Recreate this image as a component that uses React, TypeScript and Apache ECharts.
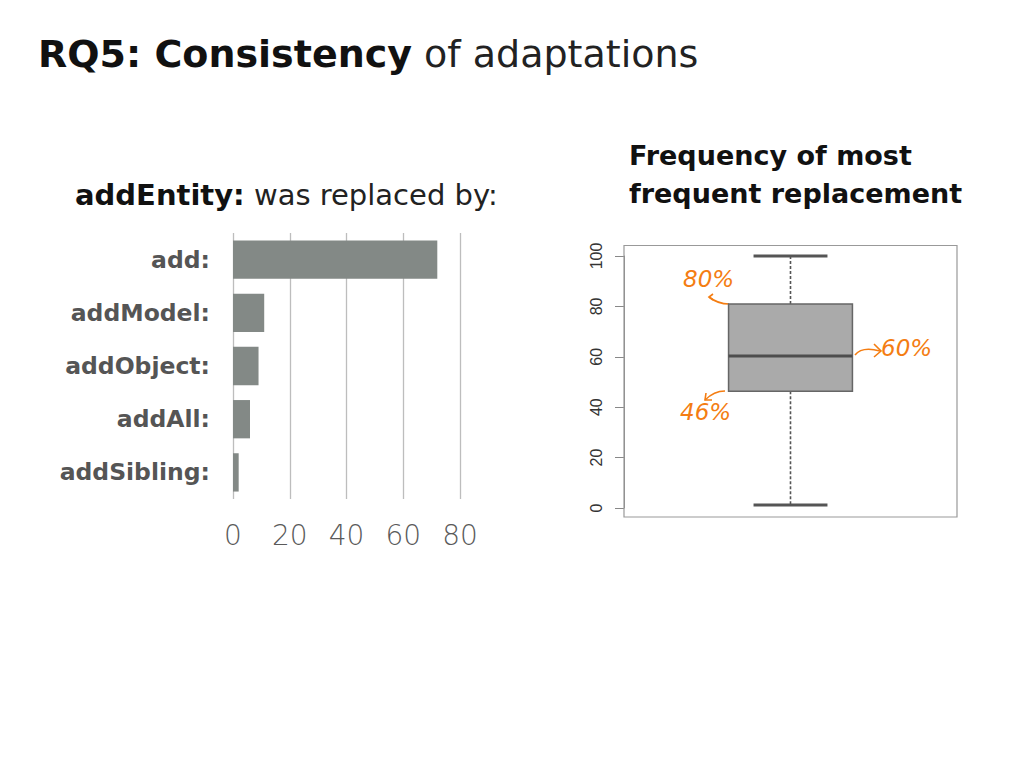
import React, { useEffect, useRef } from "react";
import * as echarts from "echarts";

const categories = ["add:", "addModel:", "addObject:", "addAll:", "addSibling:"];
const counts = [72, 11, 9, 6, 2];
const barTicks = [0, 20, 40, 60, 80];

const boxCategory = ["most frequent"];
// [index, min, Q1, median, Q3, max]
const boxStats = [[0, 1.2, 46.3, 60.3, 81, 100]];
const boxTicks = [0, 20, 40, 60, 80, 100];

const notes = [
  { text: "80%", x: 683, y: 267 },
  { text: "60%", x: 881, y: 336 },
  { text: "46%", x: 680, y: 400 },
];

const FONT = "DejaVu Sans";
const ORANGE = "#f47d12";

export default function App() {
  const ref = useRef<HTMLDivElement>(null);
  useEffect(() => {
    if (!ref.current) return;
    const chart = echarts.init(ref.current, null, { renderer: "svg" });
    const option: any = {
      animation: false,
      backgroundColor: "#ffffff",
      title: [
        {
          left: 33,
          top: 30,
          text: "{b|RQ5: Consistency}{n| of adaptations}",
          textStyle: {
            rich: {
              b: { fontFamily: FONT, fontSize: 38, fontWeight: "bold", color: "#111" },
              n: { fontFamily: FONT, fontSize: 38, fontWeight: "normal", color: "#222" },
            },
          },
        },
        {
          left: 70,
          top: 175,
          text: "{b|addEntity:}{n| was replaced by:}",
          textStyle: {
            rich: {
              b: { fontFamily: FONT, fontSize: 29, fontWeight: "bold", color: "#111" },
              n: { fontFamily: FONT, fontSize: 29, fontWeight: "normal", color: "#222" },
            },
          },
        },
        {
          left: 624,
          top: 131,
          text: "Frequency of most\nfrequent replacement",
          textStyle: {
            fontFamily: FONT,
            fontSize: 27,
            fontWeight: "bold",
            color: "#111",
            lineHeight: 38,
          },
        },
      ],
      grid: [
        { left: 233, right: 564, top: 233, bottom: 269 },
        { left: 624, right: 67, top: 256, bottom: 260 },
      ],
      xAxis: [
        {
          gridIndex: 0,
          type: "value",
          min: 0,
          max: 80,
          interval: 20,
          axisLine: { show: false },
          axisTick: { show: false },
          splitLine: { show: true, lineStyle: { color: "#bdbdbd", width: 1.3 } },
          axisLabel: {
            margin: 22,
            fontFamily: FONT,
            fontSize: 28,
            fontWeight: 200,
            color: "#5a5a5a",
            formatter: (v: number) => (barTicks.includes(v) ? String(v) : ""),
          },
        },
        {
          gridIndex: 1,
          type: "category",
          data: boxCategory,
          axisLine: { show: false },
          axisTick: { show: false },
          axisLabel: { show: false },
          splitLine: { show: false },
        },
      ],
      yAxis: [
        {
          gridIndex: 0,
          type: "category",
          data: categories,
          inverse: true,
          axisLine: { show: false },
          axisTick: { show: false },
          axisLabel: {
            margin: 23,
            fontFamily: FONT,
            fontSize: 23.5,
            fontWeight: "bold",
            color: "#555",
          },
        },
        {
          gridIndex: 1,
          type: "value",
          min: 0,
          max: 100,
          interval: 20,
          axisLine: { show: true, lineStyle: { color: "#888", width: 1 } },
          axisTick: { show: true, inside: false, length: 9, lineStyle: { color: "#888" } },
          splitLine: { show: false },
          axisLabel: {
            rotate: 90,
            margin: 20,
            fontFamily: "Liberation Sans",
            fontSize: 16,
            color: "#333",
            formatter: (v: number) => (boxTicks.includes(v) ? String(v) : ""),
          },
        },
      ],
      series: [
        {
          type: "bar",
          xAxisIndex: 0,
          yAxisIndex: 0,
          data: counts,
          barWidth: "72%",
          itemStyle: { color: "#838986" },
        },
        {
          type: "custom",
          xAxisIndex: 1,
          yAxisIndex: 1,
          data: boxStats,
          encode: { x: 0, y: [1, 2, 3, 4, 5] },
          renderItem: (params: any, api: any) => {
            const xi = api.value(0);
            const pMin = api.coord([xi, api.value(1)]);
            const pQ1 = api.coord([xi, api.value(2)]);
            const pMed = api.coord([xi, api.value(3)]);
            const pQ3 = api.coord([xi, api.value(4)]);
            const pMax = api.coord([xi, api.value(5)]);
            const band = api.size([1, 0])[0];
            const cx = pMed[0];
            const bw = band * 0.372;
            const cw = band * 0.222;
            return {
              type: "group",
              children: [
                {
                  type: "line",
                  shape: { x1: cx, y1: pQ1[1], x2: cx, y2: pMin[1] },
                  style: { stroke: "#555", lineWidth: 1.6, lineDash: [3, 2] },
                },
                {
                  type: "line",
                  shape: { x1: cx, y1: pQ3[1], x2: cx, y2: pMax[1] },
                  style: { stroke: "#555", lineWidth: 1.6, lineDash: [3, 2] },
                },
                {
                  type: "rect",
                  shape: { x: cx - bw / 2, y: pQ3[1], width: bw, height: pQ1[1] - pQ3[1] },
                  style: { fill: "#aaaaaa", stroke: "#666", lineWidth: 1.5 },
                },
                {
                  type: "line",
                  shape: { x1: cx - bw / 2, y1: pMed[1], x2: cx + bw / 2, y2: pMed[1] },
                  style: { stroke: "#4d4d4d", lineWidth: 3 },
                },
                {
                  type: "line",
                  shape: { x1: cx - cw / 2, y1: pMax[1], x2: cx + cw / 2, y2: pMax[1] },
                  style: { stroke: "#555", lineWidth: 3 },
                },
                {
                  type: "line",
                  shape: { x1: cx - cw / 2, y1: pMin[1], x2: cx + cw / 2, y2: pMin[1] },
                  style: { stroke: "#555", lineWidth: 3 },
                },
              ],
            };
          },
        },
      ],
      graphic: [
        {
          type: "rect",
          shape: { x: 624, y: 245.5, width: 333, height: 271.5 },
          style: { fill: "none", stroke: "#999", lineWidth: 1.2 },
          z: 1,
        },
        ...notes.map((n) => ({
          type: "text",
          x: n.x,
          y: n.y,
          style: {
            text: n.text,
            fontFamily: FONT,
            fontStyle: "italic",
            fontSize: 23,
            fill: ORANGE,
          },
        })),
        {
          type: "bezierCurve",
          shape: { x1: 729, y1: 304, cpx1: 718, cpy1: 304, x2: 709, y2: 297 },
          style: { stroke: ORANGE, lineWidth: 1.6, fill: "none" },
        },
        {
          type: "polyline",
          shape: { points: [[713, 294], [709, 297], [713, 300]] },
          style: { stroke: ORANGE, lineWidth: 1.6, fill: "none" },
        },
        {
          type: "bezierCurve",
          shape: { x1: 855, y1: 355, cpx1: 862, cpy1: 346, x2: 880, y2: 351 },
          style: { stroke: ORANGE, lineWidth: 1.6, fill: "none" },
        },
        {
          type: "polyline",
          shape: { points: [[874, 344], [881, 351], [874, 357]] },
          style: { stroke: ORANGE, lineWidth: 1.6, fill: "none" },
        },
        {
          type: "bezierCurve",
          shape: { x1: 725, y1: 391, cpx1: 714, cpy1: 391, x2: 705, y2: 400 },
          style: { stroke: ORANGE, lineWidth: 1.6, fill: "none" },
        },
        {
          type: "polyline",
          shape: { points: [[706, 393], [705, 400], [712, 400]] },
          style: { stroke: ORANGE, lineWidth: 1.6, fill: "none" },
        },
      ],
    };
    chart.setOption(option);
    return () => chart.dispose();
  }, []);
  return (
    <div
      ref={ref}
      style={{ position: "fixed", left: 0, top: 0, width: 1024, height: 768 }}
    />
  );
}
